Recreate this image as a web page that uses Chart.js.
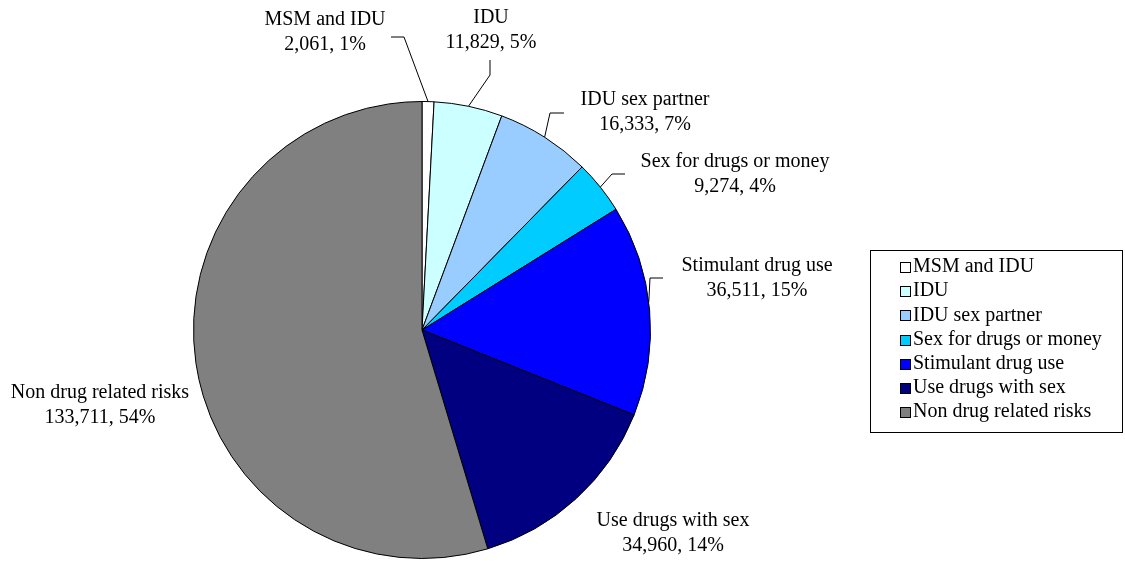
<!DOCTYPE html>
<html lang="en">
<head>
  <meta charset="UTF-8">
  <title>Risk categories</title>
  <script src="https://cdn.jsdelivr.net/npm/chart.js"></script>
  <style>
    body {
      margin: 0;
      background: #fff;
    }
    canvas {
      display: block;
    }
  </style>
</head>
<body>

  <canvas id="chart" width="1125" height="561"></canvas>

  <script>
    const categories = ['MSM and IDU', 'IDU', 'IDU sex partner', 'Sex for drugs or money',
      'Stimulant drug use', 'Use drugs with sex', 'Non drug related risks'];
    const counts = [2061, 11829, 16333, 9274, 36511, 34960, 133711];
    const percentLabels = ['1%', '5%', '7%', '4%', '15%', '14%', '54%'];
    const colors = ['#FFFFFF', '#CCFFFF', '#99CCFF', '#00CCFF', '#0000FF', '#000080', '#808080'];

    const FONT = '20px "Liberation Serif", "Times New Roman", serif';

    // where each data label sits (text centre, two lines) and its leader elbow
    const labelLayout = [
      { x: 325, y: 20, leader: [[391, 37], [404, 37]] },
      { x: 491, y: 18, leader: [[490, 60], [490, 75]] },
      { x: 645, y: 100, leader: [[564, 113], [550, 113]] },
      { x: 735, y: 162, leader: [[625, 174], [612, 174]] },
      { x: 757, y: 266, leader: [[663, 278], [650, 278]], tipDeg: 83 },
      { x: 673, y: 521 },
      { x: 100, y: 393 }
    ];
    const lineGap = 25;

    const labelPlugin = {
      id: 'labels',
      afterDraw(chart) {
        const ctx = chart.ctx;
        const arcs = chart.getDatasetMeta(0).data;
        ctx.save();
        ctx.font = FONT;
        ctx.fillStyle = '#000';
        ctx.textAlign = 'center';
        ctx.textBaseline = 'middle';
        arcs.forEach((arc, i) => {
          const lay = labelLayout[i];
          ctx.fillText(categories[i], lay.x, lay.y);
          ctx.fillText(counts[i].toLocaleString('en-US') + ', ' + percentLabels[i], lay.x, lay.y + lineGap);
          if (lay.leader) {
            const p = arc.getProps(['x', 'y', 'startAngle', 'endAngle', 'outerRadius'], true);
            const ang = lay.tipDeg !== undefined ? (lay.tipDeg - 90) * Math.PI / 180
              : (p.startAngle + p.endAngle) / 2;
            const tx = p.x + Math.cos(ang) * p.outerRadius;
            const ty = p.y + Math.sin(ang) * p.outerRadius;
            ctx.beginPath();
            ctx.strokeStyle = '#000';
            ctx.lineWidth = 1;
            ctx.moveTo(lay.leader[0][0], lay.leader[0][1]);
            ctx.lineTo(lay.leader[1][0], lay.leader[1][1]);
            ctx.lineTo(tx, ty);
            ctx.stroke();
          }
        });

        // legend box
        const bx = 870, by = 250, bw = 252, bh = 182;
        ctx.strokeStyle = '#000';
        ctx.lineWidth = 1;
        ctx.strokeRect(bx + 0.5, by + 0.5, bw, bh);
        ctx.textAlign = 'left';
        categories.forEach((name, i) => {
          const y = 267 + i * 24.2;
          ctx.fillStyle = colors[i];
          ctx.fillRect(900, Math.round(y - 5), 10, 10);
          ctx.strokeStyle = '#000';
          ctx.strokeRect(900.5, Math.round(y - 5) + 0.5, 10, 10);
          ctx.fillStyle = '#000';
          ctx.fillText(name, 913, y);
        });
        ctx.restore();
      }
    };

    new Chart(document.getElementById('chart'), {
      type: 'pie',
      data: {
        labels: categories,
        datasets: [{
          data: counts,
          backgroundColor: colors,
          borderColor: '#000',
          borderWidth: 1
        }]
      },
      options: {
        responsive: false,
        animation: false,
        layout: {
          padding: { left: 193, top: 101, right: 474, bottom: 2 }
        },
        plugins: {
          legend: { display: false },
          tooltip: { enabled: false }
        }
      },
      plugins: [labelPlugin]
    });
  </script>
</body>
</html>
